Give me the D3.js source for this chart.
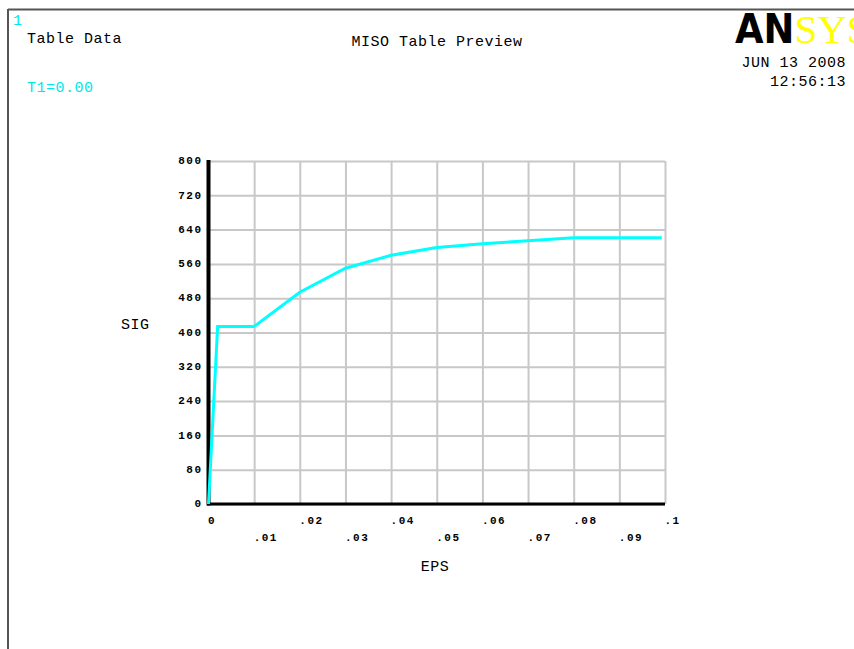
<!DOCTYPE html>
<html>
<head>
<meta charset="utf-8">
<script src="https://cdn.jsdelivr.net/npm/d3@7"></script>
<style>
  html, body { margin: 0; padding: 0; background: #fff; }
  svg { display: block; }
  .mono { font-family: "Liberation Mono", "DejaVu Sans Mono", monospace; }
</style>
</head>
<body>
<script>
// MISO stress–strain table (EPS vs SIG)
const epsValues = [0, 0.002, 0.01, 0.02, 0.03, 0.04, 0.05, 0.06, 0.07, 0.08, 0.0993];
const sigValues = [0, 414, 414, 494, 550, 580, 598, 607, 614, 621, 621];

const xTickValues = [0, 0.01, 0.02, 0.03, 0.04, 0.05, 0.06, 0.07, 0.08, 0.09, 0.1];
const yTickValues = [0, 80, 160, 240, 320, 400, 480, 560, 640, 720, 800];

const W = 854, H = 649;
const plot = { left: 208.5, right: 665, top: 161, bottom: 504 };

const svg = d3.select("body").append("svg")
  .attr("width", W).attr("height", H);

// window frame
svg.append("line").attr("x1", 8).attr("x2", W).attr("y1", 9.5).attr("y2", 9.5)
  .attr("stroke", "#555").attr("stroke-width", 2);
svg.append("line").attr("x1", 8).attr("x2", 8).attr("y1", 9).attr("y2", H)
  .attr("stroke", "#555").attr("stroke-width", 2);

const x = d3.scaleLinear().domain([0, 0.1]).range([plot.left, plot.right]);
const y = d3.scaleLinear().domain([0, 800]).range([plot.bottom, plot.top]);

// grid
const gridX = svg.append("g")
  .attr("transform", `translate(0,${plot.bottom})`)
  .call(d3.axisBottom(x).tickValues(xTickValues).tickSize(-(plot.bottom - plot.top)).tickFormat(""));
gridX.select(".domain").remove();
gridX.selectAll(".tick line").attr("stroke", "#c8c8c8").attr("stroke-width", 2);

const gridY = svg.append("g")
  .attr("transform", `translate(${plot.left},0)`)
  .call(d3.axisLeft(y).tickValues(yTickValues).tickSize(-(plot.right - plot.left)).tickFormat(""));
gridY.select(".domain").remove();
gridY.selectAll(".tick line").attr("stroke", "#c8c8c8").attr("stroke-width", 2);

// axis tick labels
const fmtX = d => d === 0 ? "0" : d3.format(".2~f")(d).replace(/^0/, "");
const xAxis = svg.append("g")
  .attr("transform", `translate(0,${plot.bottom})`)
  .call(d3.axisBottom(x).tickValues(xTickValues).tickSize(0).tickFormat(fmtX));
xAxis.select(".domain").remove();
xAxis.selectAll(".tick text")
  .attr("class", "mono")
  .attr("font-size", 11).attr("font-weight", "bold")
  .attr("letter-spacing", 1.5)
  .attr("fill", "#000")
  .attr("text-anchor", "start")
  .attr("x", -1)
  .attr("y", (d, i) => i % 2 === 0 ? 20 : 37)
  .attr("dy", null);

const yAxis = svg.append("g")
  .attr("transform", `translate(${plot.left},0)`)
  .call(d3.axisLeft(y).tickValues(yTickValues).tickSize(0).tickFormat(d3.format("d")));
yAxis.select(".domain").remove();
yAxis.selectAll(".tick text")
  .attr("class", "mono")
  .attr("font-size", 11).attr("font-weight", "bold")
  .attr("letter-spacing", 1.5)
  .attr("fill", "#000")
  .attr("text-anchor", "end")
  .attr("x", -6)
  .attr("dy", "0.25em");

// thick black axes
svg.append("line").attr("x1", x(0) - 1.5).attr("x2", plot.right).attr("y1", y(0)).attr("y2", y(0))
  .attr("stroke", "#000").attr("stroke-width", 3);
svg.append("line").attr("x1", x(0)).attr("x2", x(0)).attr("y1", plot.top - 1).attr("y2", y(0) + 1.5)
  .attr("stroke", "#000").attr("stroke-width", 4);

// curve
const pts = epsValues.map((e, i) => [e, sigValues[i]]);
svg.append("path")
  .datum(pts)
  .attr("fill", "none")
  .attr("stroke", "#00ffff")
  .attr("stroke-width", 3)
  .attr("d", d3.line().x(d => x(d[0])).y(d => y(d[1])));

// axis titles
svg.append("text").attr("class", "mono").attr("x", 435).attr("y", 571)
  .attr("text-anchor", "middle").attr("font-size", 15).attr("letter-spacing", 0.5)
  .text("EPS");
svg.append("text").attr("class", "mono").attr("x", 121).attr("y", 329)
  .attr("font-size", 15).attr("letter-spacing", 0.5)
  .text("SIG");

// header text
const hdr = (tx, ty, s, color, anchor) => svg.append("text")
  .attr("class", "mono").attr("x", tx).attr("y", ty)
  .attr("font-size", 15).attr("letter-spacing", 0.5)
  .attr("fill", color).attr("text-anchor", anchor || "start").text(s);
hdr(13, 25, "1", "#00e8e8");
hdr(27, 43, "Table Data", "#000");
hdr(27, 92, "T1=0.00", "#00e8e8");
hdr(437, 46, "MISO Table Preview", "#000", "middle");
hdr(846, 67, "JUN 13 2008", "#000", "end");
hdr(846, 86, "12:56:13", "#000", "end");

// logo: heavy black "AN" followed by yellow serif "SYS"
const logo = svg.append("text").attr("x", 735).attr("y", 43);
logo.append("tspan")
  .attr("font-family", "DejaVu Sans Condensed, DejaVu Sans, sans-serif")
  .attr("font-weight", 900).attr("font-size", 41)
  .attr("fill", "#000").text("AN");
logo.append("tspan")
  .attr("font-family", "Liberation Serif, serif")
  .attr("font-size", 41)
  .attr("fill", "#ffff00").text("SYS");
</script>
</body>
</html>
